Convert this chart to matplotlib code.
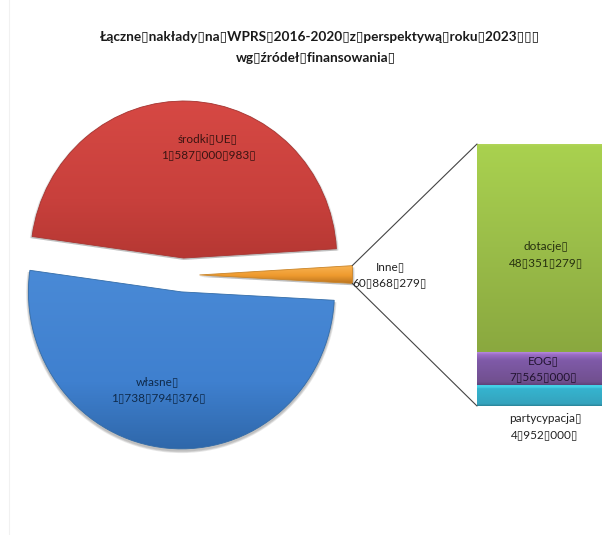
import numpy as np
import matplotlib
matplotlib.use('Agg')
import matplotlib.pyplot as plt
from matplotlib.patches import ConnectionPatch, Wedge
from matplotlib.lines import Line2D
from matplotlib.colors import to_rgb

plt.rcParams['font.family'] = ['Lato', 'DejaVu Sans']

BOX = '\u25af'  # the empty boxes the original shows instead of spaces

# main pie, anticlockwise from the right side
pie_names = ['środki UE', 'własne', 'Inne']
pie_values = [1587000983, 1738794376, 60868279]
# bar of the "Inne" slice, bottom to top
bar_names = ['partycypacja', 'EOG', 'dotacje']
bar_values = [4952000, 7565000, 48351279]

W, H = 603, 535
fig = plt.figure(figsize=(W / 100, H / 100), dpi=100)

# faint frame line on the left of the original
fig.add_artist(Line2D([9 / W, 9 / W], [0, 1], color='#f1f1f1', lw=0.8))


def pos(left, top, right, bottom):
    return [left / W, 1 - bottom / H, (right - left) / W, (bottom - top) / H]


def label(name, value):
    return name.replace(' ', BOX) + BOX + '\n' + f'{value:,}'.replace(',', BOX) + BOX


def gradient(ax, stops, extent, patch):
    # vertical colour ramp clipped to the patch, stops go top to bottom
    t = np.linspace(0, 1, 256)
    where = [s[0] for s in stops]
    rgb = [to_rgb(s[1]) for s in stops]
    img = np.stack([np.interp(t, where, [c[i] for c in rgb]) for i in range(3)], axis=1)
    im = ax.imshow(img[:, None, :], extent=extent, aspect='auto', zorder=2, interpolation='bilinear')
    im.set_clip_path(patch)


# pie: 1 unit is 153 px across and 157 px down in the original
ax = fig.add_axes(pos(183 - 1.15 * 153, 275 - 1.15 * 157, 183 + 1.15 * 153, 275 + 1.15 * 157))
wedges, _ = ax.pie(pie_values, explode=[0.108, 0.108, 0.108], startangle=3.4, radius=1)
red, blue, orange = wedges

pie_stops = [
    ([(0, '#d84a45'), (0.55, '#c8403c'), (0.93, '#b03530'), (1, '#8f2a26')], (-1.2, 1.2, -0.1, 1.2)),
    ([(0, '#3f7fcb'), (0.05, '#4a8ad6'), (0.6, '#3f80cf'), (0.92, '#2f68ab'), (1, '#24507f')], (-1.2, 1.2, -1.2, 0.1)),
    ([(0, '#f9b555'), (0.5, '#ee9a2e'), (1, '#a9661a')], (0.1, 1.2, -0.07, 0.06)),
]
edges = ['#a83430', '#336ca8', '#c98428']
for w, (stops, extent), edge in zip(wedges, pie_stops, edges):
    # soft shadow below the slice
    for k in range(3):
        sh = Wedge((w.center[0], w.center[1] - 0.012), w.r + 0.005 * (k + 1), w.theta1, w.theta2,
                   facecolor='black', edgecolor='none', alpha=0.09, zorder=1)
        ax.add_patch(sh)
    w.set_facecolor('none')
    w.set_edgecolor(edge)
    w.set_linewidth(0.6)
    w.set_zorder(3)
    gradient(ax, stops, extent, w)

ax.set_aspect('auto')
ax.set_xlim(-1.15, 1.15)
ax.set_ylim(-1.15, 1.15)
ax.axis('off')

# stacked bar
bx = fig.add_axes(pos(477, 144, 602, 406))
bar_stops = [
    [(0, '#45d0e6'), (0.14, '#45d0e6'), (0.2, '#35b4cf'), (0.9, '#35a3bd'), (1, '#2a8296')],
    [(0, '#b78ae0'), (0.08, '#9a6cc4'), (0.25, '#7f5aa8'), (0.9, '#71508f'), (1, '#5d4278')],
    [(0, '#b4d65c'), (0.015, '#a9d14f'), (0.5, '#9abd49'), (1, '#8aa83f')],
]
bottom = 0
for value, stops in zip(bar_values, bar_stops):
    rect = bx.bar(0, value, width=1, bottom=bottom, align='edge', color='none', zorder=3)[0]
    gradient(bx, stops, (0, 1, bottom, bottom + value), rect)
    bottom += value
bx.set_xlim(0, 1)
bx.set_ylim(0, sum(bar_values))
bx.axis('off')

# connector lines from the orange slice to the bar corners
cx, cy = orange.center
for ang, ybar in [(orange.theta2, sum(bar_values)), (orange.theta1, 0)]:
    ang = np.deg2rad(ang)
    con = ConnectionPatch((cx + np.cos(ang), cy + np.sin(ang)), (0, ybar),
                          coordsA=ax.transData, coordsB=bx.transData,
                          color='#444444', lw=0.8)
    fig.add_artist(con)


def put(x, y, s, **kw):
    fig.text(x / W, 1 - y / H, s, ha='center', va='center', linespacing=1.6, **kw)


put(320, 37, 'Łączne' + BOX + 'nakłady' + BOX + 'na' + BOX + 'WPRS' + BOX + '2016-2020' + BOX + 'z' + BOX
    + 'perspektywą' + BOX + 'roku' + BOX + '2023' + BOX * 3, fontsize=9.8, fontweight='bold', color='#1a1a1a')
put(316, 58, 'wg' + BOX + 'źródeł' + BOX + 'finansowania' + BOX, fontsize=9.8, fontweight='bold', color='#1a1a1a')

txt = '#222222'
put(208, 147, label(pie_names[0], pie_values[0]), fontsize=8.5, color='#3a1412')
put(158, 390, label(pie_names[1], pie_values[1]), fontsize=8.5, color='#0f2a4a')
put(390, 275, label(pie_names[2], pie_values[2]), fontsize=8.5, color=txt)
put(546, 255, label(bar_names[2], bar_values[2]), fontsize=8.5, color='#26300f')
put(543, 369, label(bar_names[1], bar_values[1]), fontsize=8.5, color='#221430')
put(545, 427, label(bar_names[0], bar_values[0]), fontsize=8.5, color=txt)

fig.savefig('out.png', dpi=100)
